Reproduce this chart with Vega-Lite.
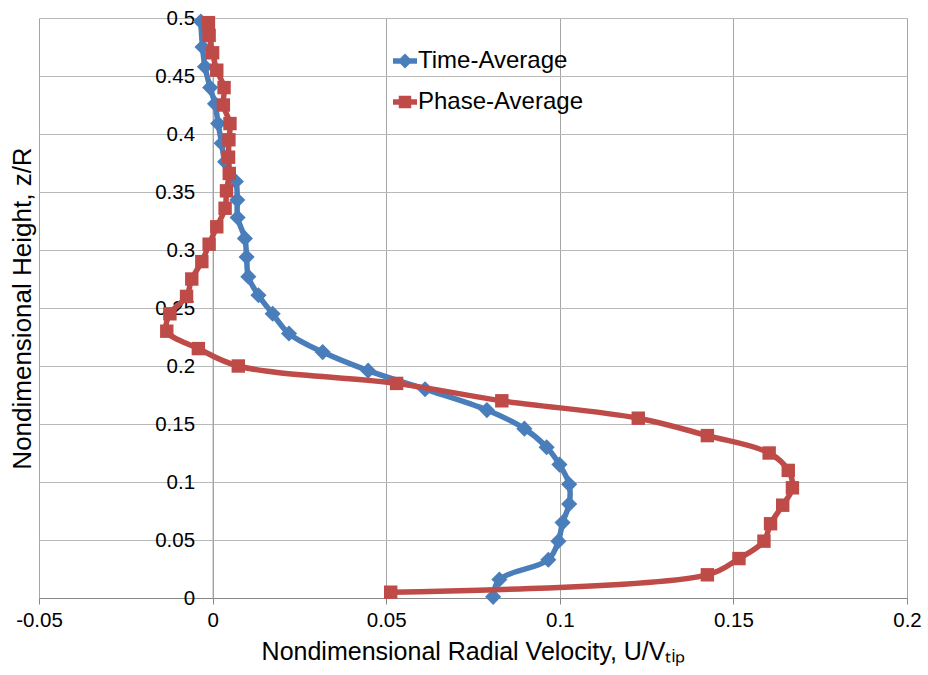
{
  "$schema": "https://vega.github.io/schema/vega-lite/v6.json",
  "width": 868,
  "height": 580,
  "autosize": {"type": "none"},
  "padding": {"left": 39, "top": 18, "right": 21, "bottom": 77},
  "background": "white",
  "config": {
    "view": {"stroke": null},
    "font": "Liberation Sans",
    "axis": {"labelFont": "Liberation Sans", "titleFont": "Liberation Sans", "labelColor": "black", "titleColor": "black", "titleFontWeight": "normal"}
  },
  "data": {
    "values": [
      {"s": "Time-Average", "i": 1, "x": -0.0034, "y": 0.497},
      {"s": "Time-Average", "i": 2, "x": -0.0029, "y": 0.475},
      {"s": "Time-Average", "i": 3, "x": -0.0022, "y": 0.458},
      {"s": "Time-Average", "i": 4, "x": -0.0007, "y": 0.440},
      {"s": "Time-Average", "i": 5, "x": 0.0007, "y": 0.426},
      {"s": "Time-Average", "i": 6, "x": 0.0016, "y": 0.409},
      {"s": "Time-Average", "i": 7, "x": 0.0026, "y": 0.392},
      {"s": "Time-Average", "i": 8, "x": 0.0036, "y": 0.376},
      {"s": "Time-Average", "i": 9, "x": 0.0067, "y": 0.359},
      {"s": "Time-Average", "i": 10, "x": 0.0071, "y": 0.343},
      {"s": "Time-Average", "i": 11, "x": 0.0072, "y": 0.328},
      {"s": "Time-Average", "i": 12, "x": 0.0093, "y": 0.310},
      {"s": "Time-Average", "i": 13, "x": 0.0098, "y": 0.294},
      {"s": "Time-Average", "i": 14, "x": 0.0103, "y": 0.277},
      {"s": "Time-Average", "i": 15, "x": 0.0132, "y": 0.261},
      {"s": "Time-Average", "i": 16, "x": 0.0173, "y": 0.245},
      {"s": "Time-Average", "i": 17, "x": 0.0220, "y": 0.228},
      {"s": "Time-Average", "i": 18, "x": 0.0317, "y": 0.212},
      {"s": "Time-Average", "i": 19, "x": 0.0448, "y": 0.196},
      {"s": "Time-Average", "i": 20, "x": 0.0612, "y": 0.180},
      {"s": "Time-Average", "i": 21, "x": 0.0790, "y": 0.162},
      {"s": "Time-Average", "i": 22, "x": 0.0898, "y": 0.146},
      {"s": "Time-Average", "i": 23, "x": 0.0962, "y": 0.130},
      {"s": "Time-Average", "i": 24, "x": 0.0999, "y": 0.115},
      {"s": "Time-Average", "i": 25, "x": 0.1027, "y": 0.098},
      {"s": "Time-Average", "i": 26, "x": 0.1027, "y": 0.081},
      {"s": "Time-Average", "i": 27, "x": 0.1008, "y": 0.065},
      {"s": "Time-Average", "i": 28, "x": 0.0996, "y": 0.049},
      {"s": "Time-Average", "i": 29, "x": 0.0967, "y": 0.033},
      {"s": "Time-Average", "i": 30, "x": 0.0826, "y": 0.016},
      {"s": "Time-Average", "i": 31, "x": 0.0808, "y": 0.001},
      {"s": "Phase-Average", "i": 1, "x": -0.0012, "y": 0.496},
      {"s": "Phase-Average", "i": 2, "x": -0.0010, "y": 0.485},
      {"s": "Phase-Average", "i": 3, "x": 0.0000, "y": 0.470},
      {"s": "Phase-Average", "i": 4, "x": 0.0012, "y": 0.455},
      {"s": "Phase-Average", "i": 5, "x": 0.0033, "y": 0.440},
      {"s": "Phase-Average", "i": 6, "x": 0.0031, "y": 0.425},
      {"s": "Phase-Average", "i": 7, "x": 0.0050, "y": 0.409},
      {"s": "Phase-Average", "i": 8, "x": 0.0047, "y": 0.395},
      {"s": "Phase-Average", "i": 9, "x": 0.0046, "y": 0.380},
      {"s": "Phase-Average", "i": 10, "x": 0.0048, "y": 0.366},
      {"s": "Phase-Average", "i": 11, "x": 0.0040, "y": 0.351},
      {"s": "Phase-Average", "i": 12, "x": 0.0036, "y": 0.336},
      {"s": "Phase-Average", "i": 13, "x": 0.0012, "y": 0.320},
      {"s": "Phase-Average", "i": 14, "x": -0.0010, "y": 0.305},
      {"s": "Phase-Average", "i": 15, "x": -0.0031, "y": 0.290},
      {"s": "Phase-Average", "i": 16, "x": -0.0060, "y": 0.275},
      {"s": "Phase-Average", "i": 17, "x": -0.0075, "y": 0.260},
      {"s": "Phase-Average", "i": 18, "x": -0.0123, "y": 0.245},
      {"s": "Phase-Average", "i": 19, "x": -0.0132, "y": 0.230},
      {"s": "Phase-Average", "i": 20, "x": -0.0041, "y": 0.215},
      {"s": "Phase-Average", "i": 21, "x": 0.0074, "y": 0.200},
      {"s": "Phase-Average", "i": 22, "x": 0.0530, "y": 0.185},
      {"s": "Phase-Average", "i": 23, "x": 0.0833, "y": 0.170},
      {"s": "Phase-Average", "i": 24, "x": 0.1226, "y": 0.155},
      {"s": "Phase-Average", "i": 25, "x": 0.1425, "y": 0.140},
      {"s": "Phase-Average", "i": 26, "x": 0.1603, "y": 0.125},
      {"s": "Phase-Average", "i": 27, "x": 0.1658, "y": 0.110},
      {"s": "Phase-Average", "i": 28, "x": 0.1670, "y": 0.095},
      {"s": "Phase-Average", "i": 29, "x": 0.1642, "y": 0.080},
      {"s": "Phase-Average", "i": 30, "x": 0.1607, "y": 0.064},
      {"s": "Phase-Average", "i": 31, "x": 0.1588, "y": 0.049},
      {"s": "Phase-Average", "i": 32, "x": 0.1516, "y": 0.034},
      {"s": "Phase-Average", "i": 33, "x": 0.1425, "y": 0.020},
      {"s": "Phase-Average", "i": 34, "x": 0.0513, "y": 0.005}
    ]
  },
  "encoding": {
    "x": {
      "field": "x", "type": "quantitative",
      "scale": {"domain": [-0.05, 0.2], "nice": false, "zero": false},
      "axis": {
        "values": [-0.05, 0, 0.05, 0.1, 0.15, 0.2],
        "labelExpr": "'' + datum.value",
        "title": "Nondimensional Radial Velocity, U/Vₜᵢₚ",
        "titleFontSize": 25, "titlePadding": 9,
        "labelFontSize": 20.5, "labelPadding": 6,
        "tickSize": 6, "tickColor": "#888888", "domainColor": "#888888",
        "gridColor": "#a6a6a6", "gridWidth": 1,
        "labelFlush": false, "labelOverlap": false
      }
    },
    "y": {
      "field": "y", "type": "quantitative",
      "scale": {"domain": [0, 0.5], "nice": false, "zero": false},
      "axis": {
        "values": [0, 0.05, 0.1, 0.15, 0.2, 0.25, 0.3, 0.35, 0.4, 0.45, 0.5],
        "labelExpr": "'' + datum.value",
        "title": "Nondimensional Height, z/R",
        "titleFontSize": 26, "titleX": -190, "titleBaseline": "middle",
        "labelFontSize": 20.5, "labelPadding": 18,
        "ticks": false, "domainColor": "#a0a0a0",
        "offset": -173.6,
        "gridColor": "#b8b8b8", "gridWidth": 1,
        "labelFlush": false, "labelOverlap": false
      }
    },
    "color": {
      "field": "s", "type": "nominal",
      "scale": {"domain": ["Time-Average", "Phase-Average"], "range": ["#4A7EBB", "#BE4B48"]},
      "legend": {
        "title": null,
        "orient": "none",
        "legendX": 354,
        "legendY": 31,
        "padding": 0,
        "symbolSize": 576,
        "symbolStrokeWidth": 0,
        "labelFontSize": 24,
        "labelFont": "Liberation Sans",
        "labelColor": "black",
        "labelOffset": 1,
        "labelLimit": 400,
        "rowPadding": 17,
        "encode": {
          "symbols": {
            "update": {
              "shape": {"signal": "datum.value === 'Time-Average' ? 'M-1,-0.22L1,-0.22L1,0.22L-1,0.22Z M0,-0.62L0.62,0L0,0.62L-0.62,0Z' : 'M-1,-0.22L1,-0.22L1,0.22L-1,0.22Z M-0.52,-0.52L0.52,-0.52L0.52,0.52L-0.52,0.52Z'"}
            }
          }
        }
      }
    }
  },
  "layer": [
    {
      "transform": [{"filter": "datum.s === 'Time-Average'"}],
      "mark": {"type": "line", "interpolate": "catmull-rom", "strokeWidth": 5.5},
      "encoding": {"order": {"field": "i", "type": "quantitative"}}
    },
    {
      "transform": [{"filter": "datum.s === 'Time-Average'"}],
      "mark": {"type": "point", "shape": "diamond", "filled": true, "size": 260, "opacity": 1}
    },
    {
      "transform": [{"filter": "datum.s === 'Phase-Average'"}],
      "mark": {"type": "line", "interpolate": "catmull-rom", "strokeWidth": 5.5},
      "encoding": {"order": {"field": "i", "type": "quantitative"}}
    },
    {
      "transform": [{"filter": "datum.s === 'Phase-Average'"}],
      "mark": {"type": "point", "shape": "square", "filled": true, "size": 180, "opacity": 1}
    }
  ]
}
